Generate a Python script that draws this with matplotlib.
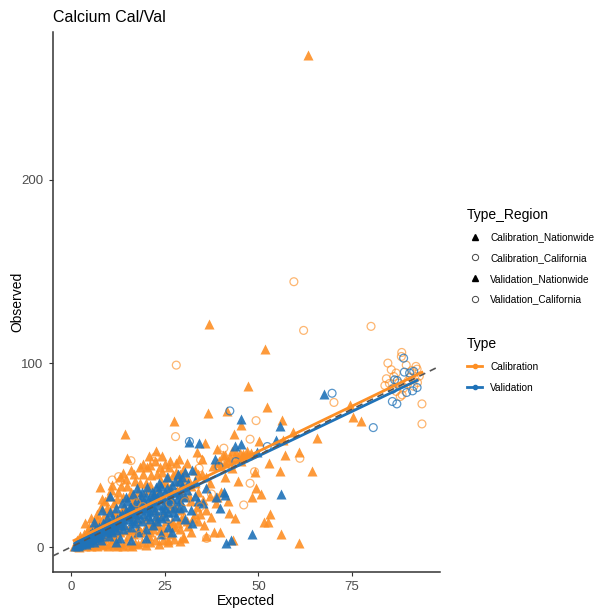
import numpy as np
import matplotlib
matplotlib.use('Agg')
import matplotlib.pyplot as plt
from matplotlib.lines import Line2D

plt.rcParams['font.family'] = ['Liberation Sans', 'DejaVu Sans']

# Calibration, Nationwide sites (filled triangles)
cal_nat = [
    (0.8, 0.3), (1.5, 0.8), (2.2, 0.2), (3.0, 1.0), (3.8, 0.4), (4.5, 1.6), (5.2, 0.6), (6.0, 1.2),
    (6.8, 0.3), (7.5, 2.0), (8.3, 0.9), (9.0, 1.5), (9.8, 0.4), (10.6, 2.3), (11.4, 1.0), (12.2, 0.5),
    (13.0, 1.8), (13.8, 0.8), (14.6, 2.6), (15.4, 1.2), (16.2, 0.6), (17.0, 2.2), (18.0, 1.4), (19.0, 3.0),
    (20.0, 1.0), (21.0, 2.5), (22.4, 3.8), (23.5, 1.8), (24.6, 3.8), (26.0, 2.6), (27.5, 4.5), (29.0, 3.2),
    (30.0, 5.4), (1.5, 4), (2.5, 6), (3.0, 3), (3.7, 12.9), (4.2, 8), (5.0, 10), (5.3, 15.6), (5.8, 6),
    (6.5, 13), (7.0, 18), (7.7, 32.5), (8.0, 22), (8.5, 11), (9.0, 25), (9.5, 16), (10.0, 28),
    (10.3, 20), (10.8, 8), (11.0, 34), (11.5, 24), (12.0, 14), (12.5, 30), (13.0, 38), (13.5, 20),
    (13.9, 40.5), (14.0, 27), (14.5, 61.6), (14.9, 48.3), (15.0, 33), (15.5, 10), (16.0, 42), (16.3, 24),
    (17.0, 36), (17.5, 15), (18.0, 30), (18.4, 43.4), (18.8, 8), (19.3, 39.8), (19.5, 22), (20.0, 35),
    (20.4, 43.4), (20.9, 49.6), (21.2, 44.7), (21.5, 12), (22.0, 28), (22.6, 52.3), (23.0, 18), (23.7, 43.4),
    (24.0, 36), (24.4, 49.6), (25.0, 8), (25.5, 25), (26.1, 43.4), (26.5, 32), (27.0, 14), (27.6, 68.8),
    (27.9, 41), (28.0, 22), (28.5, 36), (29.0, 10), (29.4, 20.2), (30.0, 28), (30.1, 4.7), (31.0, 45.6),
    (31.1, 11.4), (32.0, 33), (33.0, 18), (33.5, 51.9), (34.0, 40), (35.3, 25.6), (35.8, 56.5), (36.0, 38),
    (36.7, 72.8), (36.8, 121.2), (37.5, 16.5), (38.2, 8.4), (38.6, 24.2), (38.9, 27.1), (38.9, 53.2),
    (39.7, 8.4), (39.5, 47), (40.0, 44), (40.5, 50), (41.0, 46), (41.7, 73.8), (42.1, 18.7), (42.5, 49),
    (43.0, 43), (43.3, 3.8), (43.6, 61.6), (43.7, 15.6), (44.0, 51), (44.7, 36.1), (45.3, 66.5), (46.0, 50.5),
    (47.0, 52), (47.2, 87.7), (48.0, 51), (48.4, 27.1), (49.1, 41), (49.3, 32), (50.3, 57.8), (50.7, 28.9),
    (51.6, 13.8), (52.2, 76.1), (52.5, 13.8), (52.8, 46), (53.1, 18), (55.9, 41.6), (56.1, 7.1), (56.4, 69.2),
    (56.5, 58.3), (57.2, 50.1), (59.2, 62.8), (60.8, 51.9), (60.8, 2.3), (63.2, 267.7), (64.3, 41.6),
    (65.8, 59.2), (74.4, 77.4), (75.3, 71), (77.4, 68.8), (51.8, 107.9),
    (12, 18), (14, 12), (16, 30), (17, 20), (19, 27), (21, 34), (22, 20), (23, 40), (24, 28), (25, 45),
    (26, 38), (27, 30), (28, 46), (29, 40), (30, 35), (32, 25), (33, 42), (34, 30), (35, 48), (36, 20),
    (37, 35), (38, 44), (40, 30), (41, 38), (42, 25), (39, 46), (41, 50), (42, 47), (43, 52), (44, 48),
    (45, 51), (46, 49), (45.5, 47), (47, 50),
    (2, 2), (2.8, 4.5), (3.5, 7), (4, 2.5), (4.8, 11), (5.5, 3.5), (6.2, 9), (6.8, 15), (7.3, 4), (7.8, 13),
    (8.2, 26), (8.8, 17), (9.3, 6), (9.7, 21), (10.2, 14), (10.7, 31), (11.2, 4.5), (11.8, 19), (12.3, 26),
    (12.8, 9), (13.3, 33), (13.7, 15), (14.2, 22), (14.8, 37), (15.2, 6), (15.7, 28), (16.2, 17), (16.8, 40),
    (17.3, 26), (17.8, 10), (18.3, 35), (18.7, 21), (19.2, 45), (19.8, 16), (20.3, 31), (20.8, 6), (21.3, 39),
    (21.8, 25), (22.3, 47), (22.8, 14), (23.3, 31), (23.8, 9), (24.3, 41), (24.8, 19), (25.3, 35), (25.8, 4),
    (26.3, 47), (26.8, 21), (27.3, 39), (27.8, 11), (28.3, 31), (28.8, 48), (29.3, 15), (29.8, 42), (31, 38),
    (32, 8), (33, 35), (34, 14), (35, 40), (36, 6), (37, 28), (31.5, 28), (33.5, 22),
    (5, 3), (7, 4.5), (9, 5), (10, 7), (12, 6), (13, 8), (15, 9), (16.5, 7), (18, 11), (19.5, 9),
    (20.5, 13), (22, 10), (23, 12), (24.5, 11), (25.5, 14), (27, 12), (28.5, 13), (30, 16), (31, 14),
    (32.5, 16), (34.5, 18), (35.5, 12), (26.5, 7), (21, 8),
]

# Calibration, California sites (open circles)
cal_ca = [
    (59.5, 144.4), (62.1, 117.9), (80.1, 120.1), (28.1, 99), (70.2, 78.7), (27.9, 60.1), (16, 47),
    (22.1, 46.5), (22.5, 49), (11, 36.5), (13.2, 35.6), (12.7, 38.3), (34.6, 47.4), (34.2, 42.9),
    (40.8, 53.8), (47.8, 58.7), (49.4, 68.8), (61.1, 48.3), (47.8, 34.7), (49, 41), (46.1, 22.9),
    (37.5, 28.9), (34.5, 22), (36.2, 4.7), (40, 45), (43, 44), (17.5, 24.1), (19.1, 22), (26.4, 23.8),
    (24.2, 3.8), (18.4, 6.5), (30.4, 24.7),
    (88.3, 105.9), (88.2, 103.7), (84.6, 100.1), (92.1, 98.3), (92.4, 96.8), (86.8, 94.7), (86.2, 92.8),
    (90.6, 92.5), (91.8, 91.5), (93, 93), (84.2, 91.6), (83.8, 87.9), (87.5, 89.2), (89.9, 88.8),
    (86.8, 84.7), (88.4, 82.8), (87.9, 81.9), (93.7, 77.9), (93.7, 67), (85.5, 96.5), (89.5, 99),
    (91, 96), (90, 90.5), (85, 89), (92.5, 89.5), (88.8, 86.5), (86, 86.5), (91.5, 87.5),
]

# Validation, Nationwide sites (filled triangles)
val_nat = [
    (1.0, 0.8), (1.5, 2), (2.0, 1), (2.5, 3), (3.0, 2), (3.5, 5), (4.0, 3), (4.5, 6), (5.0, 4), (5.5, 8),
    (6.0, 5), (6.1, 13.8), (6.5, 9), (7.0, 6), (7.5, 11), (8.0, 7), (8.3, 20.2), (8.5, 13), (9.0, 9),
    (9.5, 16), (10.0, 11), (10.5, 27.8), (10.5, 19), (11.0, 8), (11.5, 14), (12.0, 21), (12.5, 12),
    (13.0, 17), (13.5, 24), (14.0, 10), (14.7, 27.1), (15.0, 19), (15.5, 15), (16.0, 22), (16.5, 29),
    (17.0, 13), (17.5, 32), (18.0, 18), (18.5, 25), (19.0, 14), (19.5, 21), (20.0, 28), (20.2, 32.9),
    (20.5, 17), (21.0, 24), (21.5, 30), (22.0, 12), (22.5, 20), (22.8, 32.9), (23.0, 27), (23.5, 35),
    (24.0, 16), (24.5, 23), (25.0, 30), (25.5, 38), (26.0, 19), (26.5, 27), (27.0, 34), (27.5, 22),
    (28.0, 30), (28.5, 40), (29.0, 25), (29.5, 33), (30.3, 41), (30.5, 15), (31.3, 34.7), (31.6, 57),
    (32.4, 42), (32.4, 13.2), (33, 28), (34.2, 56.5), (35.3, 23.8), (36, 32), (38.4, 47.8), (38.8, 27.1),
    (39.9, 21), (40.8, 30), (41.2, 28.3), (41.5, 2.3), (42.7, 3.8), (43.7, 55), (45.3, 56.1), (45.4, 69.6),
    (48.2, 7.1), (49.7, 51.9), (54.6, 58.3), (55.9, 65.9), (56, 28.9), (67.5, 83.4),
    (3, 4), (4, 1.5), (5, 7), (6, 2.5), (7, 9), (8, 4), (9, 12), (10, 6), (11, 16), (12, 9), (13, 5),
    (14, 15), (15, 25), (16, 11), (17, 18), (18, 8), (19, 30), (20, 10), (21, 19), (22, 26), (23, 14),
    (24, 33), (25, 21), (26, 11), (27, 26), (28, 17), (29, 36), (30, 22),
    (1.2, 1.5), (1.8, 0.5), (2.2, 2.5), (2.7, 1.5), (3.2, 3.5), (3.7, 2.5), (4.2, 4.5), (4.7, 3), (5.2, 6),
    (5.7, 4.5), (6.2, 7), (6.7, 5.5), (7.2, 8), (7.7, 6), (8.2, 10), (8.7, 8), (9.2, 11), (9.7, 9),
    (10.2, 13), (10.7, 10), (11.2, 12), (11.7, 11), (12.2, 15), (12.7, 13), (13.2, 14), (13.7, 18),
    (14.2, 12), (14.7, 20), (15.2, 17), (15.7, 22), (16.2, 14), (16.7, 19), (17.2, 24), (17.7, 16),
    (18.2, 21), (18.7, 27), (19.2, 18), (19.7, 24), (20.2, 20), (20.7, 26), (21.2, 15), (21.7, 22),
    (22.2, 29), (22.7, 17), (23.2, 23), (23.7, 30), (24.2, 20), (24.7, 26), (25.2, 17), (25.7, 32),
    (26.2, 24), (26.7, 30), (27.2, 19), (27.7, 36), (28.2, 26), (28.7, 21), (29.2, 29), (29.7, 38),
    (30.5, 27), (31, 31), (32, 20), (33, 36), (34, 25), (27, 8), (24, 7), (20, 5), (16, 4), (12, 3),
]

# Validation, California sites (open circles)
val_ca = [
    (42.4, 74.1), (69.7, 83.7), (80.7, 65), (88.8, 102.8), (89, 95.2), (90.4, 94.7), (91.5, 95.6),
    (86.4, 91), (87.1, 90.6), (85.8, 85.9), (89.6, 84.1), (91.2, 85), (92.4, 86.8), (85.8, 79.2),
    (87, 77.9), (31.6, 57.4), (52.4, 54.7), (44, 46.5), (39.5, 43.8), (18, 18), (23, 25), (26, 15),
]

ORANGE = '#FD8F25'
BLUE = '#1F72B8'

cal_nat = np.array(cal_nat)
cal_ca = np.array(cal_ca)
val_nat = np.array(val_nat)
val_ca = np.array(val_ca)

fig = plt.figure(figsize=(6.01, 6.11), dpi=100)
ax = fig.add_axes([0.0877, 0.0638, 0.6443, 0.8838])

# points
ax.scatter(cal_nat[:, 0], cal_nat[:, 1], marker='^', s=52, color=ORANGE, alpha=0.9, linewidths=0, zorder=2)
ax.scatter(val_nat[:, 0], val_nat[:, 1], marker='^', s=52, color=BLUE, alpha=0.9, linewidths=0, zorder=2)
ax.scatter(cal_ca[:, 0], cal_ca[:, 1], marker='o', s=32, facecolors='none', edgecolors=ORANGE,
           alpha=0.65, linewidths=0.9, zorder=2)
ax.scatter(val_ca[:, 0], val_ca[:, 1], marker='o', s=32, facecolors='none', edgecolors=BLUE,
           alpha=0.75, linewidths=0.9, zorder=2)

# linear fits per Type
for pts, col in [(np.vstack([cal_nat, cal_ca]), ORANGE), (np.vstack([val_nat, val_ca]), BLUE)]:
    k, b = np.polyfit(pts[:, 0], pts[:, 1], 1)
    xs = np.array([pts[:, 0].min(), pts[:, 0].max()])
    ax.plot(xs, k * xs + b, color=col, lw=2, zorder=3)

# 1:1 line
ax.axline((0, 0), slope=1, color='#555555', lw=1.2, ls=(0, (4, 3)), zorder=4)

ax.set_xlim(-4.9, 98.5)
ax.set_ylim(-13.6, 280.3)
ax.set_xticks([0, 25, 50, 75])
ax.set_yticks([0, 100, 200])
ax.tick_params(colors='#333333', labelcolor='#4D4D4D', labelsize=9.5, length=3, width=0.8)
for s in ['top', 'right']:
    ax.spines[s].set_visible(False)
for s in ['left', 'bottom']:
    ax.spines[s].set_color('#333333')
    ax.spines[s].set_linewidth(1.1)

ax.set_xlabel('Expected', fontsize=10, labelpad=1)
ax.set_ylabel('Observed', fontsize=10)
ax.yaxis.set_label_coords(-0.074, 0.5)
ax.set_title('Calcium Cal/Val', fontsize=11.5, loc='left', pad=7)

h1 = [
    Line2D([], [], ls='none', marker='^', color='black', markersize=5),
    Line2D([], [], ls='none', marker='o', mfc='none', mec='#444444', markersize=4.5, mew=0.7),
    Line2D([], [], ls='none', marker='^', color='black', markersize=5),
    Line2D([], [], ls='none', marker='o', mfc='none', mec='#444444', markersize=4.5, mew=0.7),
]
fig.legend(h1, ['Calibration_Nationwide', 'Calibration_California',
                'Validation_Nationwide', 'Validation_California'],
           title='Type_Region', loc='upper left', bbox_to_anchor=(0.762, 0.675),
           frameon=False, fontsize=7.3, title_fontsize=10, alignment='left',
           handlelength=1.5, handletextpad=0.8, labelspacing=1.05)

h2 = [
    Line2D([], [], color=ORANGE, lw=2, marker='o', markersize=3),
    Line2D([], [], color=BLUE, lw=2, marker='o', markersize=3),
]
fig.legend(h2, ['Calibration', 'Validation'], title='Type', loc='upper left',
           bbox_to_anchor=(0.762, 0.463), frameon=False, fontsize=7.3, title_fontsize=10,
           alignment='left', handlelength=1.5, handletextpad=0.8, labelspacing=1.05)

fig.savefig('out.png', dpi=100)
